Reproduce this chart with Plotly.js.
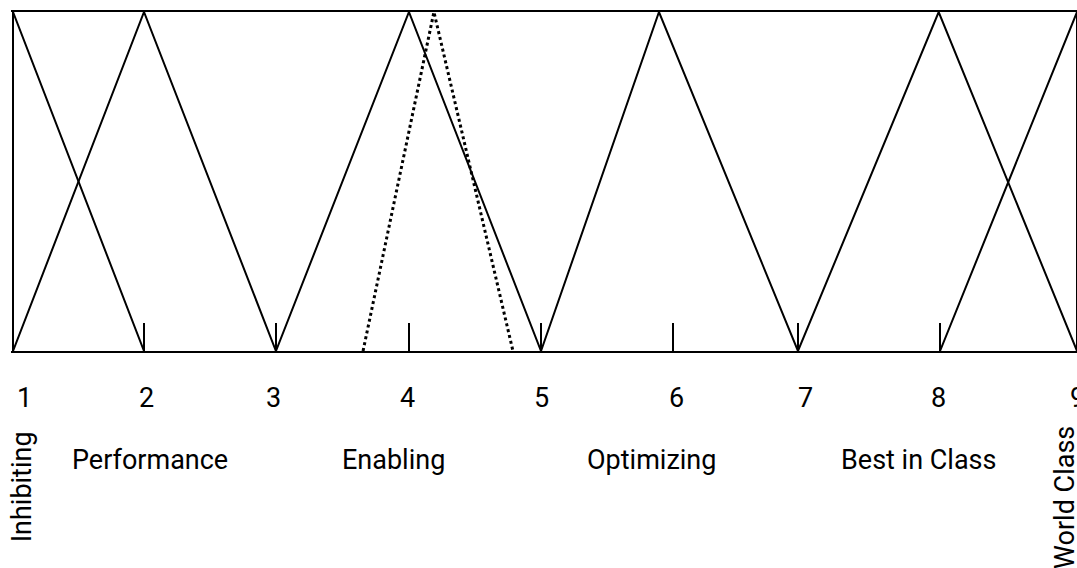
<!DOCTYPE html>
<html>
<head>
<meta charset="utf-8">
<script src="https://cdn.plot.ly/plotly-3.0.1.min.js"></script>
<style>
html,body{margin:0;padding:0;background:#fff;}
#chart{width:1077px;height:568px;}
</style>
</head>
<body>
<div id="chart"></div>
<script>
// ---- data ----
const categories = ["Inhibiting", "Performance", "Enabling", "Optimizing", "Best in Class", "World Class"];

// membership functions: x vertices and membership (0..1)
const inhibitingX  = [1, 1, 1.985];
const inhibitingY  = [0, 1, 0];
const performanceX = [1, 1.985, 2.977];
const performanceY = [0, 1, 0];
const enablingX    = [2.977, 3.977, 4.97];
const enablingY    = [0, 1, 0];
const optimizingX  = [4.97, 5.857, 6.902];
const optimizingY  = [0, 1, 0];
const bestX        = [6.902, 7.96, 9];
const bestY        = [0, 1, 0];
const worldX       = [7.97, 9, 9];
const worldY       = [0, 1, 0];
const assessedX    = [3.632, 4.165, 4.759];
const assessedY    = [0, 1, 0];

// tick marks and labels
const tickX       = [1.985, 2.977, 3.977, 4.97, 5.962, 6.902, 7.97];
const tickLabels  = ["1", "2", "3", "4", "5", "6", "7", "8", "9"];
const tickLabelX  = [1.09, 2.0, 2.962, 3.967, 4.97, 5.99, 6.955, 7.955, 9.0];
const categoryLabelX = [1.07, 2.03, 3.86, 5.80, 7.81, 8.91];

// ---- traces ----
const FONT = "Roboto, 'Liberation Sans', sans-serif";
const solid = {color: "#000", width: 2};
function tri(x, y, name, line) {
  return {type: "scatter", mode: "lines", x: x, y: y, name: name, line: line, hoverinfo: "skip"};
}
const traces = [
  tri(inhibitingX, inhibitingY, categories[0], solid),
  tri(performanceX, performanceY, categories[1], solid),
  tri(enablingX, enablingY, categories[2], solid),
  tri(optimizingX, optimizingY, categories[3], solid),
  tri(bestX, bestY, categories[4], solid),
  tri(worldX, worldY, categories[5], solid),
  tri(assessedX, assessedY, "Assessed", {color: "#000", width: 3, dash: "3px,3px"})
];

// ---- annotations ----
const annotations = [];
tickLabels.forEach((t, i) => {
  annotations.push({
    x: tickLabelX[i], xref: "x", y: 398, yref: "paper", text: t, showarrow: false,
    font: {family: FONT, size: 27, color: "#000"}, xanchor: "center", yanchor: "middle"
  });
});
categories.forEach((c, i) => {
  const rotated = (i === 0 || i === categories.length - 1);
  annotations.push({
    x: categoryLabelX[i], xref: "x", y: 460, yref: "paper", text: c, showarrow: false,
    textangle: rotated ? -90 : 0,
    font: {family: FONT, size: 27, color: "#000"}, xanchor: "center", yanchor: "middle"
  });
});

// convert pixel-based paper y (from top) to paper fraction
const H = 568, MT = 12, MB = 217;
annotations.forEach(a => {
  const py = a.y; // pixel from top
  a.y = (H - MB - py) / (H - MT - MB);
});
annotations.forEach(a => {
  if (a.textangle === -90) {
    a.y = (H - MB - (a.text === "Inhibiting" ? 487 : 498)) / (H - MT - MB);
  }
});

const layout = {
  width: 1077, height: 568,
  margin: {l: 11, r: 0, t: MT, b: MB, pad: 0},
  paper_bgcolor: "#fff", plot_bgcolor: "#fff",
  showlegend: false,
  xaxis: {
    range: [0.985, 9.0], showgrid: false, zeroline: false,
    showline: true, mirror: true, linecolor: "#000", linewidth: 2,
    tickmode: "array", tickvals: tickX, ticktext: tickX.map(() => ""),
    ticks: "inside", ticklen: 28, tickwidth: 2, tickcolor: "#000",
    showticklabels: false, fixedrange: true
  },
  yaxis: {
    range: [0, 1], showgrid: false, zeroline: false, showline: false,
    showticklabels: false, ticks: "", fixedrange: true
  },
  annotations: annotations
};

Plotly.newPlot("chart", traces, layout, {displayModeBar: false, staticPlot: true});
</script>
</body>
</html>
